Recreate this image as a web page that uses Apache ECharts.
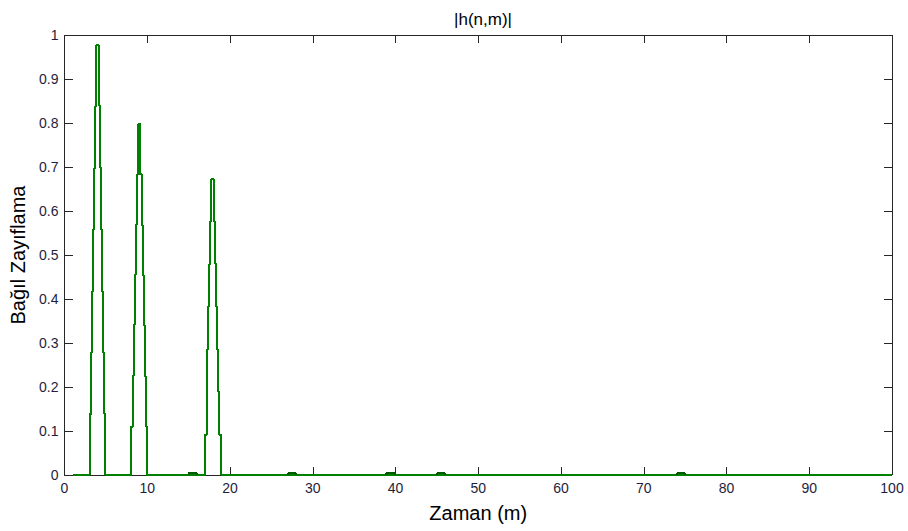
<!DOCTYPE html>
<html>
<head>
<meta charset="utf-8">
<script src="https://cdn.jsdelivr.net/npm/echarts@6/dist/echarts.min.js"></script>
<style>html,body{margin:0;padding:0;background:#fff}#c{width:908px;height:531px}
#c svg path{shape-rendering:crispEdges}</style>
</head>
<body>
<div id="c"></div>
<script>
// Axis ticks
const xTicks = [0,10,20,30,40,50,60,70,80,90,100];
const yTicks = [0,0.1,0.2,0.3,0.4,0.5,0.6,0.7,0.8,0.9,1];
// Time span of the trace
const traceStart = 1;
const traceEnd = 100;
// Peak 1 (around m = 4): step levels and edges
const peak1Levels = [0.139,0.279,0.418,0.558,0.698,0.839,0.977];
const peak1Left   = [3.08,3.24,3.36,3.48,3.60,3.72,3.85];
const peak1Right  = [4.94,4.78,4.66,4.53,4.41,4.29,4.15];
// Peak 2 (around m = 9)
const peak2Levels = [0.110,0.225,0.340,0.455,0.569,0.683,0.797];
const peak2Left   = [8.06,8.22,8.34,8.46,8.62,8.74,8.87];
const peak2Right  = [9.96,9.80,9.68,9.55,9.43,9.31,9.17];
// Peak 3 (around m = 18)
const peak3Levels = [0.092,0.189,0.286,0.383,0.480,0.577,0.673];
const peak3Left   = [17.00,17.17,17.25,17.37,17.49,17.61,17.73];
const peak3Right  = [18.95,18.70,18.54,18.42,18.30,18.18,18.04];
// Tiny pulses near zero
const bumpStart  = [15.0,27.0,38.9,45.0,74.0];
const bumpEnd    = [16.0,28.0,39.9,46.0,75.0];
const bumpLevel  = [0.004,0.004,0.004,0.004,0.004];

function peakPoints(levels, left, right){
  const p = [];
  let prev = 0;
  for (let i=0;i<levels.length;i++){ p.push([left[i],prev]); p.push([left[i],levels[i]]); prev = levels[i]; }
  for (let i=levels.length-1;i>=0;i--){ const next = i>0?levels[i-1]:0; p.push([right[i],levels[i]]); p.push([right[i],next]); }
  return p;
}
const pulses = [];
pulses.push({x:peak1Left[0], pts:peakPoints(peak1Levels,peak1Left,peak1Right)});
pulses.push({x:peak2Left[0], pts:peakPoints(peak2Levels,peak2Left,peak2Right)});
pulses.push({x:peak3Left[0], pts:peakPoints(peak3Levels,peak3Left,peak3Right)});
pulses.sort((a,b)=>a.x-b.x);
let trace = [[traceStart,0]];
pulses.forEach(p=>{ trace = trace.concat(p.pts); });
trace.push([traceEnd,0]);

// bump pieces as separate segments (null-separated)
let bumps = [];
for (let i=0;i<bumpStart.length;i++){
  bumps.push([bumpStart[i],0],[bumpStart[i],bumpLevel[i]],[bumpEnd[i],bumpLevel[i]],[bumpEnd[i],0],[bumpEnd[i],'-']);
}

const font = 'Arial, "Liberation Sans", Helvetica, sans-serif';
const axisColor = '#262626';
const labelColor = '#1e1e3c';
const fmt = v => String(parseFloat(Number(v).toFixed(2)));

const chart = echarts.init(document.getElementById('c'), null, {renderer:'svg'});
chart.setOption({
  animation:false,
  backgroundColor:'#fff',
  title:{text:'|h(n,m)|', left:478, textAlign:'center', top:6,
    textStyle:{fontFamily:font, fontSize:17, fontWeight:'normal', color:'#000'}},
  grid:{left:64.5, right:16, top:35, bottom:56, containLabel:false},
  xAxis:[{
    type:'value', min:0, max:100, interval:10, position:'bottom',
    name:'Zaman (m)', nameLocation:'middle', nameGap:28,
    nameTextStyle:{fontFamily:font, fontSize:20, color:'#000'},
    axisLine:{show:true, onZero:false, lineStyle:{color:axisColor, width:1}},
    axisTick:{show:true, inside:true, length:8, lineStyle:{color:axisColor}},
    axisLabel:{show:true, margin:6, fontFamily:font, fontSize:14, color:labelColor, formatter:fmt},
    splitLine:{show:false}
  },{
    type:'value', min:0, max:100, interval:10, position:'top',
    axisLine:{show:true, onZero:false, lineStyle:{color:axisColor, width:1}},
    axisTick:{show:true, inside:true, length:8, lineStyle:{color:axisColor}},
    axisLabel:{show:false}, splitLine:{show:false}
  }],
  yAxis:[{
    type:'value', min:0, max:1, interval:0.1, position:'left',
    name:'Bağıl Zayıflama', nameLocation:'middle', nameGap:31,
    nameTextStyle:{fontFamily:font, fontSize:20, color:'#000'},
    axisLine:{show:true, onZero:false, lineStyle:{color:axisColor, width:1}},
    axisTick:{show:true, inside:true, length:8, lineStyle:{color:axisColor}},
    axisLabel:{show:true, margin:6, fontFamily:font, fontSize:14, color:labelColor, formatter:fmt},
    splitLine:{show:false}
  },{
    type:'value', min:0, max:1, interval:0.1, position:'right',
    axisLine:{show:true, onZero:false, lineStyle:{color:axisColor, width:1}},
    axisTick:{show:true, inside:true, length:8, lineStyle:{color:axisColor}},
    axisLabel:{show:false}, splitLine:{show:false}
  }],
  series:[{
    type:'line', xAxisIndex:0, yAxisIndex:0, data:trace,
    showSymbol:false, symbol:'none', clip:false,
    lineStyle:{color:'#008000', width:2}, itemStyle:{color:'#008000'}
  },{
    type:'line', xAxisIndex:0, yAxisIndex:0, data:bumps, connectNulls:false,
    showSymbol:false, symbol:'none', clip:false,
    lineStyle:{color:'#005a00', width:2}, itemStyle:{color:'#005a00'}
  }]
});
</script>
</body>
</html>
